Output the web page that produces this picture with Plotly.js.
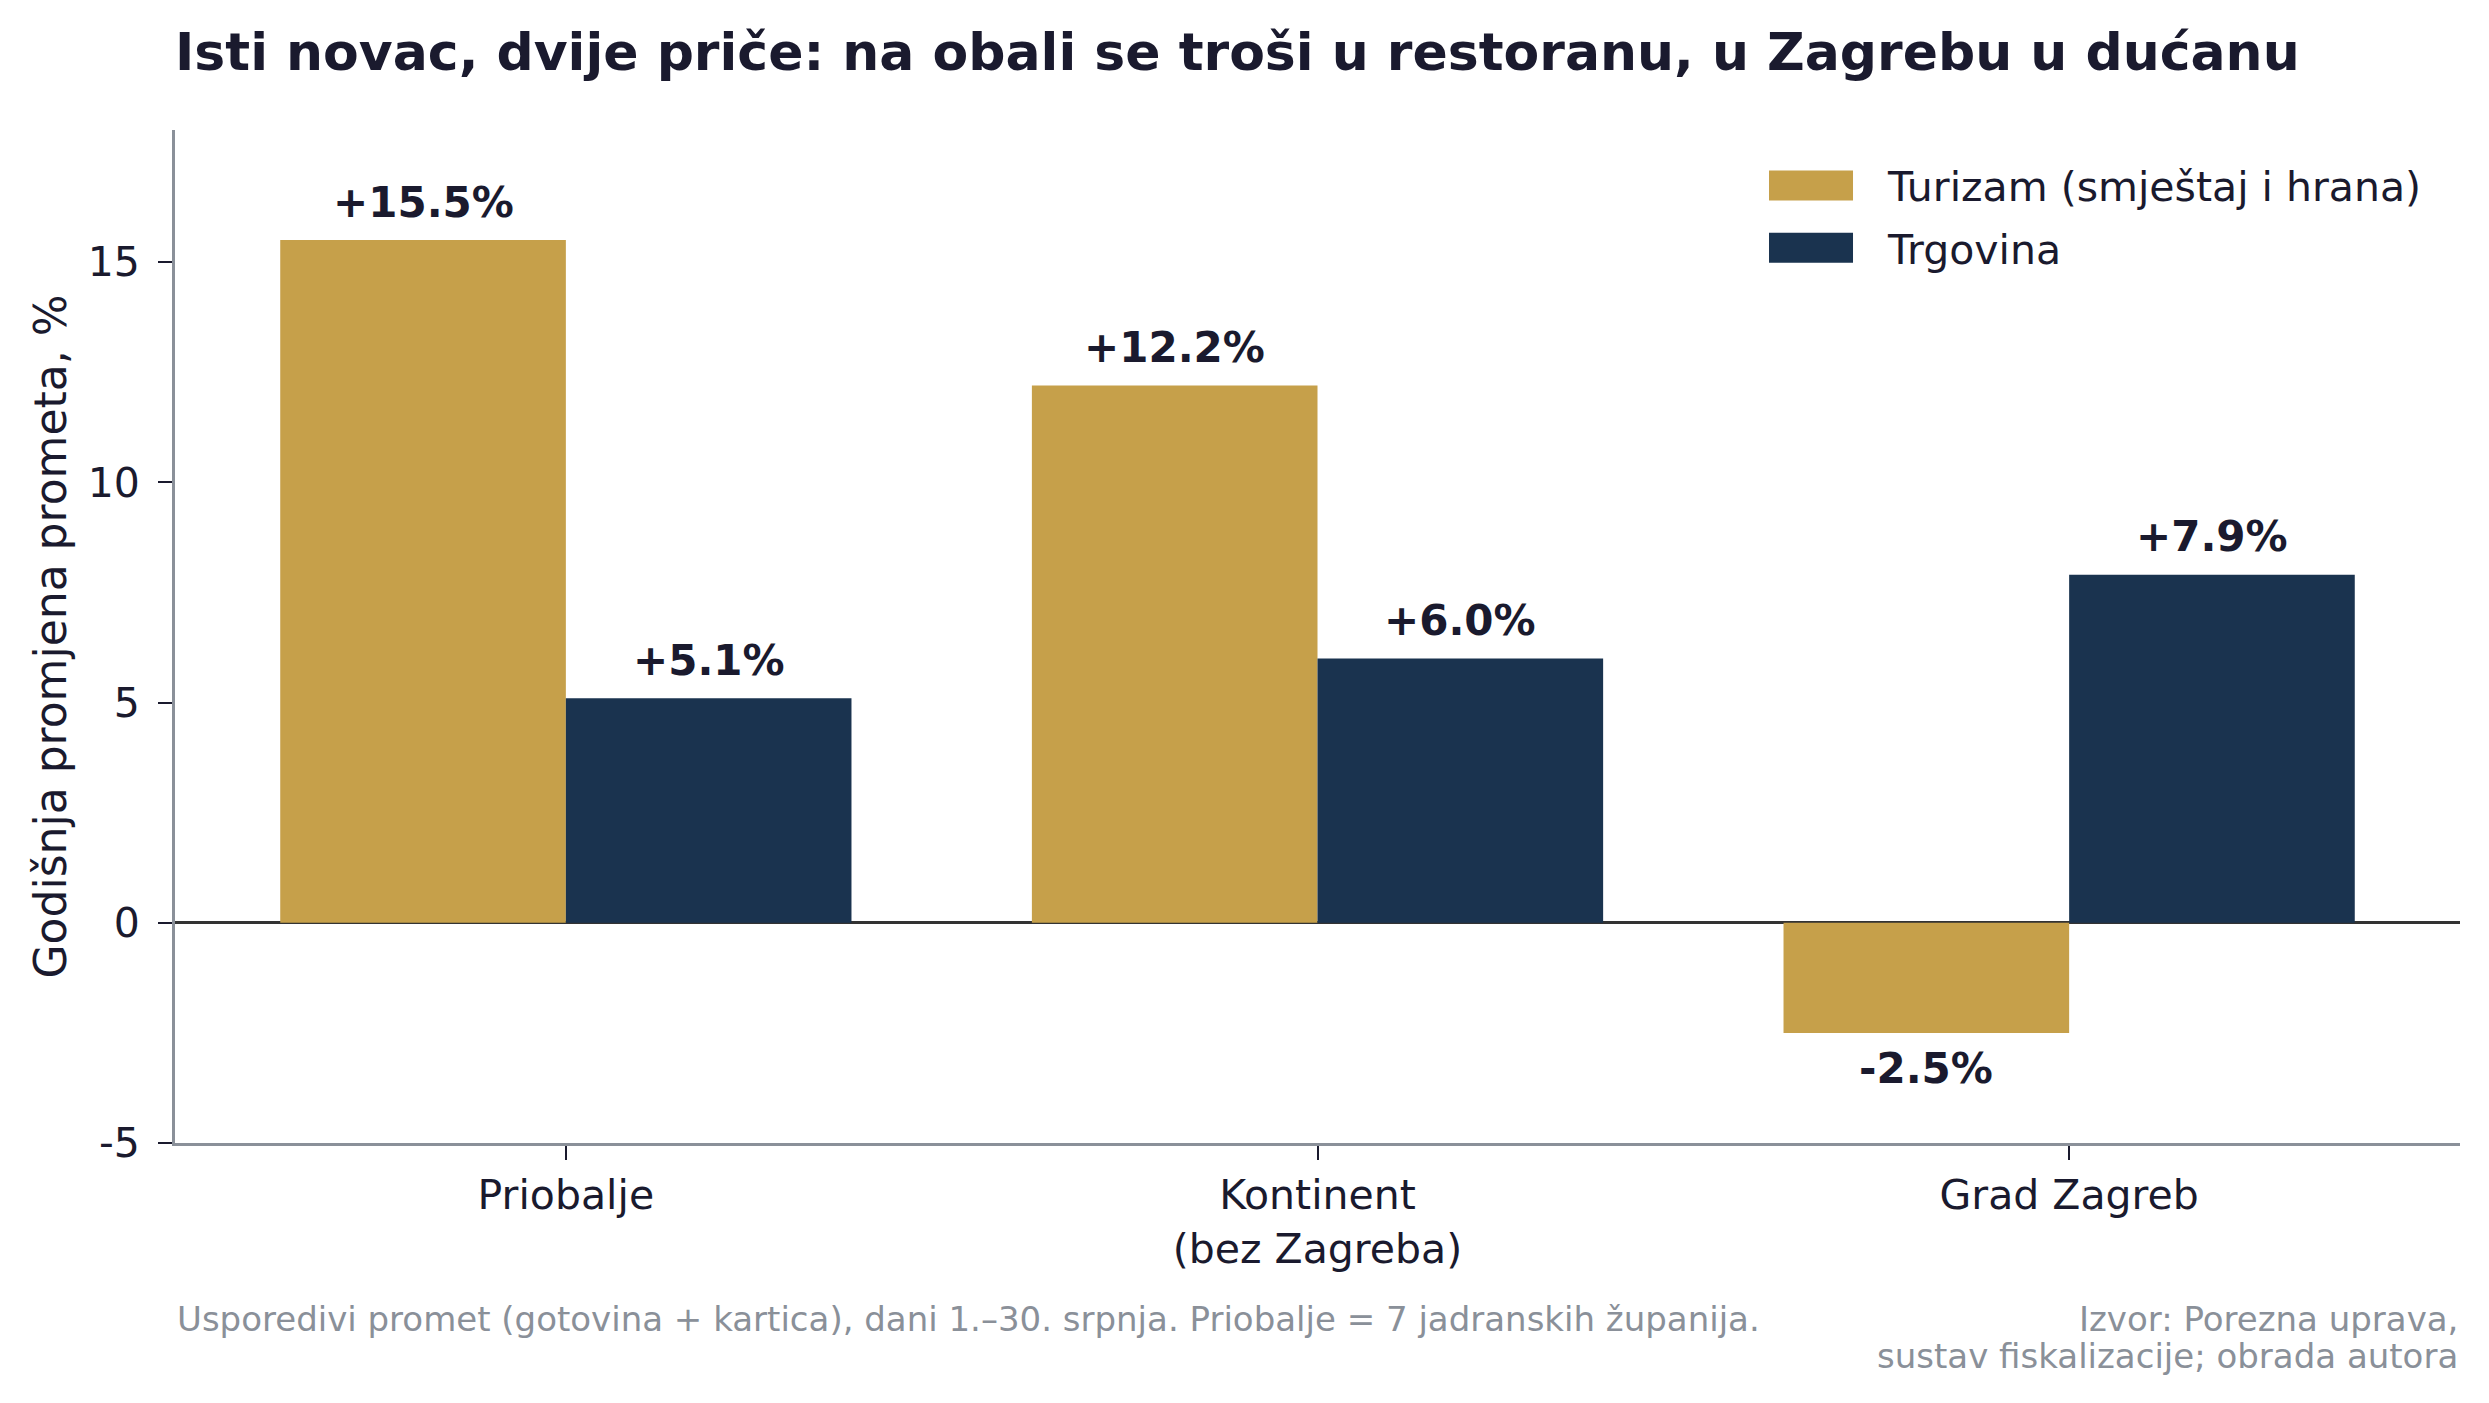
<!DOCTYPE html>
<html>
<head>
<meta charset="utf-8">
<script src="https://cdn.plot.ly/plotly-3.0.1.min.js"></script>
<style>
  html, body { margin: 0; padding: 0; background: #ffffff; }
  #chart { width: 2489px; height: 1403px; }
</style>
</head>
<body>
<div id="chart"></div>
<script>
// regions and yearly change in turnover, %
const regions = ['Priobalje', 'Kontinent<br>(bez Zagreba)', 'Grad Zagreb'];
const tourism = [15.5, 12.2, -2.5];
const retail = [5.1, 6.0, 7.9];
const yTickVals = [-5, 0, 5, 10, 15];
const yTickText = ['-5', '0', '5', '10', '15'];

const GOLD = '#c6a04a';
const NAVY = '#1a334f';
const INK = '#1a1a2e';
const GREY = '#8a9099';
const FONT = 'DejaVu Sans, sans-serif';

const fmt = v => (v > 0 ? '+' : '') + v.toFixed(1) + '%';

const traceTourism = {
    x: regions, y: tourism, name: 'Turizam (smještaj i hrana)', legendgroup: 'tur',
    type: 'bar', marker: { color: GOLD, line: { width: 0 } }, hoverinfo: 'skip'
};
const traceRetail = {
    x: regions, y: retail, name: 'Trgovina', legendgroup: 'trg',
    type: 'bar', marker: { color: NAVY, line: { width: 0 } }, hoverinfo: 'skip'
};

// value labels above / below each bar
const labels = [];
[[tourism, -0.19], [retail, 0.19]].forEach(([vals, off]) => {
    vals.forEach((v, i) => {
        labels.push({
            x: i + off, y: v, xref: 'x', yref: 'y',
            text: '<b>' + fmt(v) + '</b>', showarrow: false,
            yanchor: 'middle', yshift: v >= 0 ? 38 : -36,
            font: { family: FONT, size: 42, color: INK }
        });
    });
});

const noteFont = { family: FONT, size: 34, color: GREY };
const footer = [
    {
        xref: 'paper', yref: 'paper', x: 0, y: -0.174, xanchor: 'left', yanchor: 'middle',
        text: 'Usporedivi promet (gotovina + kartica), dani 1.–30. srpnja. Priobalje = 7 jadranskih županija.',
        showarrow: false, font: noteFont
    },
    {
        xref: 'paper', yref: 'paper', x: 1, y: -0.174, xanchor: 'right', yanchor: 'middle',
        text: 'Izvor: Porezna uprava,', showarrow: false, font: noteFont
    },
    {
        xref: 'paper', yref: 'paper', x: 1, y: -0.210, xanchor: 'right', yanchor: 'middle',
        text: 'sustav fiskalizacije; obrada autora', showarrow: false, font: noteFont
    }
];

const layout = {
    width: 2489, height: 1403,
    paper_bgcolor: '#ffffff', plot_bgcolor: '#ffffff',
    margin: { l: 175, r: 29, t: 130, b: 260 },
    font: { family: FONT, color: INK, size: 42 },
    title: {
        text: '<b>Isti novac, dvije priče: na obali se troši u restoranu, u Zagrebu u dućanu</b>',
        x: 0, xref: 'paper', xanchor: 'left', y: 0.963, yanchor: 'middle',
        font: { family: FONT, size: 52, color: INK }
    },
    barmode: 'group', bargap: 0.24, bargroupgap: 0,
    showlegend: true,
    legend: {
        x: 0.986, y: 0.978, xanchor: 'right', yanchor: 'top',
        traceorder: 'grouped', tracegroupgap: 6, itemwidth: 120,
        font: { family: FONT, size: 41, color: INK },
        bgcolor: 'rgba(0,0,0,0)'
    },
    xaxis: {
        type: 'category', range: [-0.52, 2.52],
        showline: true, linecolor: GREY, linewidth: 3,
        ticks: 'outside', ticklen: 14, tickwidth: 2, tickcolor: INK,
        showgrid: false, zeroline: false,
        tickfont: { family: FONT, size: 41, color: INK }
    },
    yaxis: {
        range: [-5, 18], tickvals: yTickVals, ticktext: yTickText,
        showline: true, linecolor: GREY, linewidth: 3,
        ticks: 'outside', ticklen: 14, tickwidth: 2, tickcolor: INK,
        ticklabelstandoff: 10,
        showgrid: false, zeroline: true, zerolinecolor: '#333333', zerolinewidth: 3,
        layer: 'above traces',
        tickfont: { family: FONT, size: 41, color: INK },
        title: { text: 'Godišnja promjena prometa, %', standoff: 8, font: { family: FONT, size: 44, color: INK } }
    },
    annotations: labels.concat(footer)
};

Plotly.newPlot('chart', [traceTourism, traceRetail], layout, { displayModeBar: false, staticPlot: true })
    .then(() => {
        // wider legend swatches, like the original's patches
        document.querySelectorAll('.legend .traces').forEach(tr => {
            const p = tr.querySelector('.legendpoints path.legendbar') || tr.querySelector('.legendpoints path');
            const t = tr.querySelector('text.legendtext');
            if (!p || !t) return;
            p.setAttribute('d', 'M-42,-15H42V15H-42Z');
            const dx = (t.getBoundingClientRect().left - 34) - p.getBoundingClientRect().right;
            p.setAttribute('d', `M${-42 + dx},-15H${42 + dx}V15H${-42 + dx}Z`);
        });
    });
</script>
</body>
</html>
